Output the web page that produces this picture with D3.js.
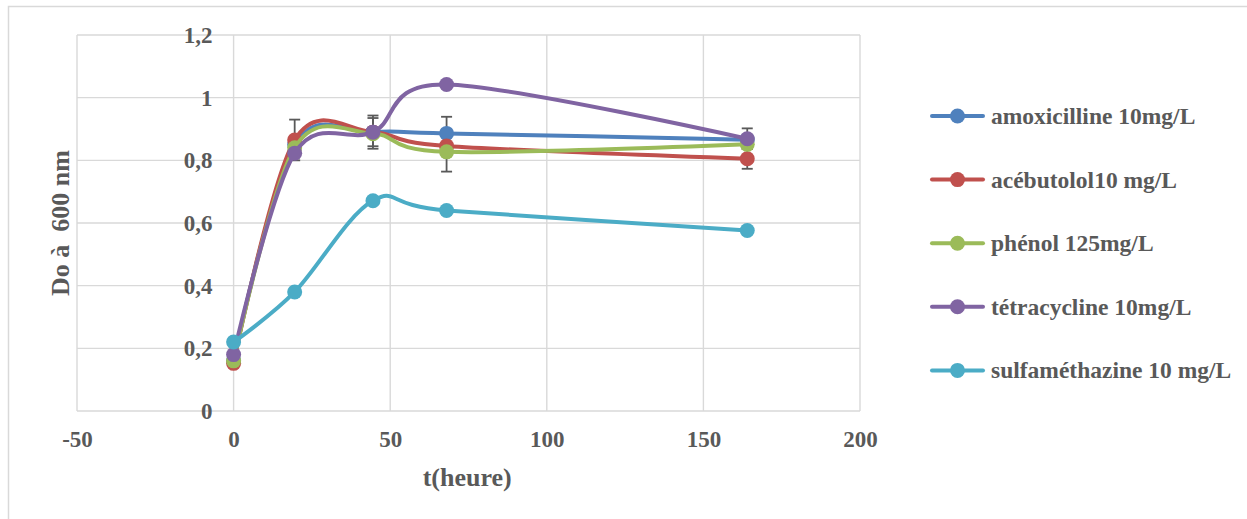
<!DOCTYPE html>
<html>
<head>
<meta charset="utf-8">
<script src="https://cdn.jsdelivr.net/npm/d3@7"></script>
<style>
  html, body { margin: 0; padding: 0; background: #fff; }
  svg { display: block; }
  text { font-family: "Liberation Serif", "Times New Roman", serif; font-weight: bold; fill: #595959; }
</style>
</head>
<body>
<svg id="chart" width="1247" height="519"></svg>
<script>
// Sampling times (hours)
const times = [0, 19.5, 44.5, 68, 164];

// Optical density at 600 nm for each culture
const seriesNames = [
  "amoxicilline 10mg/L",
  "acébutolol10 mg/L",
  "phénol 125mg/L",
  "tétracycline 10mg/L",
  "sulfaméthazine 10 mg/L"
];
const amoxicilline  = [0.160, 0.850, 0.890, 0.886, 0.866];
const acebutolol    = [0.152, 0.865, 0.890, 0.846, 0.805];
const phenol        = [0.160, 0.840, 0.885, 0.827, 0.851];
const tetracycline  = [0.180, 0.823, 0.890, 1.042, 0.869];
const sulfamethazine = [0.220, 0.380, 0.671, 0.640, 0.576];

// Standard deviations (0 = no bar drawn)
const amoxicillineErr  = [0, 0, 0.053, 0.053, 0];
const acebutololErr    = [0, 0.065, 0.045, 0, 0.032];
const phenolErr        = [0, 0, 0, 0.063, 0];
const tetracyclineErr  = [0, 0, 0, 0, 0.033];
const sulfamethazineErr = [0, 0, 0, 0, 0];

const colors = ["#4F81BD", "#C0504D", "#9BBB59", "#8064A2", "#4BACC6"];

const xTicks = [-50, 0, 50, 100, 150, 200];
const yTicks = [0, 0.2, 0.4, 0.6, 0.8, 1, 1.2];

const allValues = [amoxicilline, acebutolol, phenol, tetracycline, sulfamethazine];
const allErrors = [amoxicillineErr, acebutololErr, phenolErr, tetracyclineErr, sulfamethazineErr];
const series = seriesNames.map((name, i) => ({
  name,
  color: colors[i],
  points: times.map((t, j) => ({ t, v: allValues[i][j], e: allErrors[i][j] }))
}));

const svg = d3.select("#chart");
const plot = { left: 77, right: 860, top: 35, bottom: 411 };

const x = d3.scaleLinear().domain([-50, 200]).range([plot.left, plot.right]);
const y = d3.scaleLinear().domain([0, 1.2]).range([plot.bottom, plot.top]);

const frLocale = d3.formatLocale({ decimal: ",", thousands: " ", grouping: [3], currency: ["", " €"], minus: "-" });
const fmtY = frLocale.format("~g");
const fmtX = frLocale.format("d");

// Outer chart frame
svg.append("rect")
  .attr("x", 8.5).attr("y", 6.5)
  .attr("width", 1260).attr("height", 540)
  .attr("fill", "#fff").attr("stroke", "#d9d9d9").attr("stroke-width", 1.5);

// Gridlines
const grid = svg.append("g").attr("stroke", "#d9d9d9").attr("stroke-width", 1.4);
grid.selectAll("line.h").data(yTicks).join("line")
  .attr("x1", plot.left).attr("x2", plot.right)
  .attr("y1", d => y(d)).attr("y2", d => y(d));
grid.selectAll("line.v").data(xTicks).join("line")
  .attr("y1", plot.top).attr("y2", plot.bottom)
  .attr("x1", d => x(d)).attr("x2", d => x(d));

// Axes (labels only, lines come from the grid)
const yAxis = svg.append("g")
  .attr("transform", `translate(${x(0)},0)`)
  .call(d3.axisLeft(y).tickValues(yTicks).tickFormat(fmtY).tickSize(0).tickPadding(21));
const xAxis = svg.append("g")
  .attr("transform", `translate(0,${plot.bottom})`)
  .call(d3.axisBottom(x).tickValues(xTicks).tickFormat(fmtX).tickSize(0).tickPadding(20));
[yAxis, xAxis].forEach(a => {
  a.select(".domain").remove();
  a.selectAll("text").attr("fill", "#595959")
    .style("font-family", '"Liberation Serif", serif')
    .style("font-weight", "bold").style("font-size", "23px");
});

// Axis titles
svg.append("text")
  .attr("x", x(50) + 77).attr("y", 486)
  .attr("text-anchor", "middle")
  .style("font-size", "26px")
  .text("t(heure)");
svg.append("text")
  .attr("transform", `translate(69,${(plot.top + plot.bottom) / 2}) rotate(-90)`)
  .attr("text-anchor", "middle")
  .attr("xml:space", "preserve")
  .style("white-space", "pre")
  .style("font-size", "26px")
  .text("Do à  600 nm");

// Error bars, beneath the curves
const capHalf = 5.5;
const errG = svg.append("g").attr("stroke", "#595959").attr("stroke-width", 1.8).attr("fill", "none");
series.forEach(s => {
  s.points.filter(p => p.e > 0).forEach(p => {
    const cx = x(p.t), y1 = y(p.v + p.e), y2 = y(p.v - p.e);
    errG.append("line").attr("x1", cx).attr("x2", cx).attr("y1", y1).attr("y2", y2);
    errG.append("line").attr("x1", cx - capHalf).attr("x2", cx + capHalf).attr("y1", y1).attr("y2", y1);
    errG.append("line").attr("x1", cx - capHalf).attr("x2", cx + capHalf).attr("y1", y2).attr("y2", y2);
  });
});

// Smoothed lines and markers
const line = d3.line()
  .x(p => x(p.t)).y(p => y(p.v))
  .curve(d3.curveCardinal.tension(0));

series.forEach(s => {
  const g = svg.append("g");
  g.append("path")
    .attr("d", line(s.points))
    .attr("fill", "none")
    .attr("stroke", s.color)
    .attr("stroke-width", 4)
    .attr("stroke-linecap", "round")
    .attr("stroke-linejoin", "round");
  g.selectAll("circle").data(s.points).join("circle")
    .attr("cx", p => x(p.t)).attr("cy", p => y(p.v))
    .attr("r", 7.5)
    .attr("fill", s.color);
});

// Legend
const legend = svg.append("g");
const legendTop = 116, legendStep = 63.6;
series.forEach((s, i) => {
  const ly = legendTop + i * legendStep;
  const row = legend.append("g").attr("transform", `translate(0,${ly})`);
  row.append("line").attr("x1", 932).attr("x2", 983).attr("y1", 0).attr("y2", 0)
    .attr("stroke", s.color).attr("stroke-width", 4).attr("stroke-linecap", "round");
  row.append("circle").attr("cx", 957.5).attr("cy", 0).attr("r", 7.5).attr("fill", s.color);
  row.append("text").attr("x", 991).attr("y", 0).attr("dy", "0.34em")
    .style("font-size", "23.5px").text(s.name);
});
</script>
</body>
</html>
